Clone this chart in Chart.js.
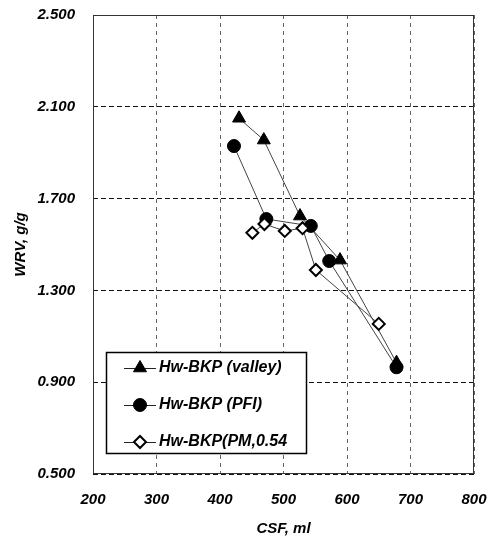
<!DOCTYPE html>
<html>
<head>
<meta charset="utf-8">
<script src="https://cdn.jsdelivr.net/npm/chart.js@4"></script>
<style>
  html, body { margin: 0; padding: 0; background: #fff; }
  #wrap { width: 494px; height: 545px; }
</style>
</head>
<body>
<div id="wrap"><canvas id="c" width="494" height="545"></canvas></div>
<script>
// ---- data ----
const seriesNames = ["Hw-BKP (valley)", "Hw-BKP (PFI)", "Hw-BKP(PM,0.54"];
const valleyCSF = [430, 469, 526, 589, 678];
const valleyWRV = [2.05, 1.955, 1.624, 1.432, 0.985];
const pfiCSF = [422, 473, 543, 572, 678];
const pfiWRV = [1.929, 1.611, 1.581, 1.428, 0.965];
const pmCSF = [451, 470, 502, 530, 551, 650];
const pmWRV = [1.551, 1.589, 1.559, 1.571, 1.389, 1.154];
const xTicks = [200, 300, 400, 500, 600, 700, 800];
const yTicks = [0.5, 0.9, 1.3, 1.7, 2.1, 2.5];
const xTitle = "CSF, ml";
const yTitle = "WRV, g/g";

const toPts = (xs, ys) => xs.map((x, i) => ({x: x, y: ys[i]}));
const FONT = "'Liberation Sans', Arial, sans-serif";

const styles = [
  {pointStyle: 'triangle', radius: 7.5, bg: '#000', border: '#000', bw: 1, order: 2},
  {pointStyle: 'circle', radius: 6.5, bg: '#000', border: '#000', bw: 1, order: 1},
  {pointStyle: 'rectRot', radius: 6, bg: '#fff', border: '#000', bw: 2, order: 0}
];
const dataSets = [toPts(valleyCSF, valleyWRV), toPts(pfiCSF, pfiWRV), toPts(pmCSF, pmWRV)];

const frameAndLegend = {
  id: 'frameAndLegend',
  beforeDatasetsDraw(chart) {
    const {ctx, chartArea: a} = chart;
    ctx.save();
    ctx.strokeStyle = '#333';
    ctx.lineWidth = 1;
    ctx.setLineDash([]);
    ctx.strokeRect(a.left + 0.5, a.top + 0.5, a.right - a.left - 1, a.bottom - a.top - 1);
    ctx.restore();
  },
  afterDatasetsDraw(chart) {
    const {ctx} = chart;
    ctx.save();
    const bx = 106, by = 352, bw = 200, bh = 101;
    ctx.fillStyle = '#fff';
    ctx.fillRect(bx, by, bw, bh);
    ctx.strokeStyle = '#000';
    ctx.lineWidth = 1.5;
    ctx.strokeRect(bx + 0.5, by + 0.5, bw, bh);
    const ys = [368, 405, 442];
    seriesNames.forEach((name, i) => {
      const y = ys[i];
      const s = styles[i];
      ctx.strokeStyle = '#222';
      ctx.lineWidth = 1;
      ctx.beginPath();
      ctx.moveTo(124, y + 0.5);
      ctx.lineTo(156, y + 0.5);
      ctx.stroke();
      ctx.fillStyle = s.bg;
      ctx.strokeStyle = s.border;
      ctx.lineWidth = s.bw;
      Chart.helpers.drawPoint(ctx, {pointStyle: s.pointStyle, radius: s.radius, rotation: 0, borderWidth: s.bw}, 140, y);
      ctx.fillStyle = '#000';
      ctx.font = "italic bold 16px " + FONT;
      ctx.textAlign = 'left';
      ctx.textBaseline = 'middle';
      ctx.fillText(name, 159, y);
    });
    ctx.restore();
  }
};

new Chart(document.getElementById('c'), {
  type: 'scatter',
  data: {
    datasets: dataSets.map((d, i) => ({
      label: seriesNames[i],
      data: d,
      showLine: true,
      borderColor: '#444',
      borderWidth: 1,
      pointStyle: styles[i].pointStyle,
      pointRadius: styles[i].radius,
      pointBackgroundColor: styles[i].bg,
      pointBorderColor: styles[i].border,
      pointBorderWidth: styles[i].bw,
      order: styles[i].order
    }))
  },
  options: {
    responsive: false,
    animation: false,
    devicePixelRatio: 1,
    layout: {padding: {top: 15, right: 20, left: 0, bottom: 0}},
    plugins: {legend: {display: false}, tooltip: {enabled: false}},
    scales: {
      x: {
        type: 'linear', min: 200, max: 800,
        afterFit(s) { s.height = 71; },
        afterBuildTicks(s) { s.ticks = xTicks.map(v => ({value: v})); },
        grid: {color: '#666', lineWidth: 1, drawTicks: true, tickLength: 17, tickColor: 'rgba(0,0,0,0)'},
        border: {display: false, dash: [4, 4]},
        ticks: {padding: 0, color: '#000', font: {family: FONT, size: 15, weight: 'bold', style: 'italic'},
                callback: v => String(v)},
        title: {display: true, text: xTitle, color: '#000', padding: {top: 0, bottom: 7},
                font: {family: FONT, size: 15, weight: 'bold', style: 'italic'}}
      },
      y: {
        type: 'linear', min: 0.5, max: 2.5,
        afterFit(s) { s.width = 93; },
        afterBuildTicks(s) { s.ticks = yTicks.map(v => ({value: v})); },
        grid: {color: '#111', lineWidth: 1, drawTicks: true, tickLength: 18, tickColor: 'rgba(0,0,0,0)'},
        border: {display: false, dash: [5, 3]},
        ticks: {padding: 0, color: '#000', font: {family: FONT, size: 15, weight: 'bold', style: 'italic'},
                callback: v => Number(v).toFixed(3)},
        title: {display: true, text: yTitle, color: '#000', padding: {top: 12, bottom: 0},
                font: {family: FONT, size: 15, weight: 'bold', style: 'italic'}}
      }
    }
  },
  plugins: [frameAndLegend]
});
</script>
</body>
</html>
